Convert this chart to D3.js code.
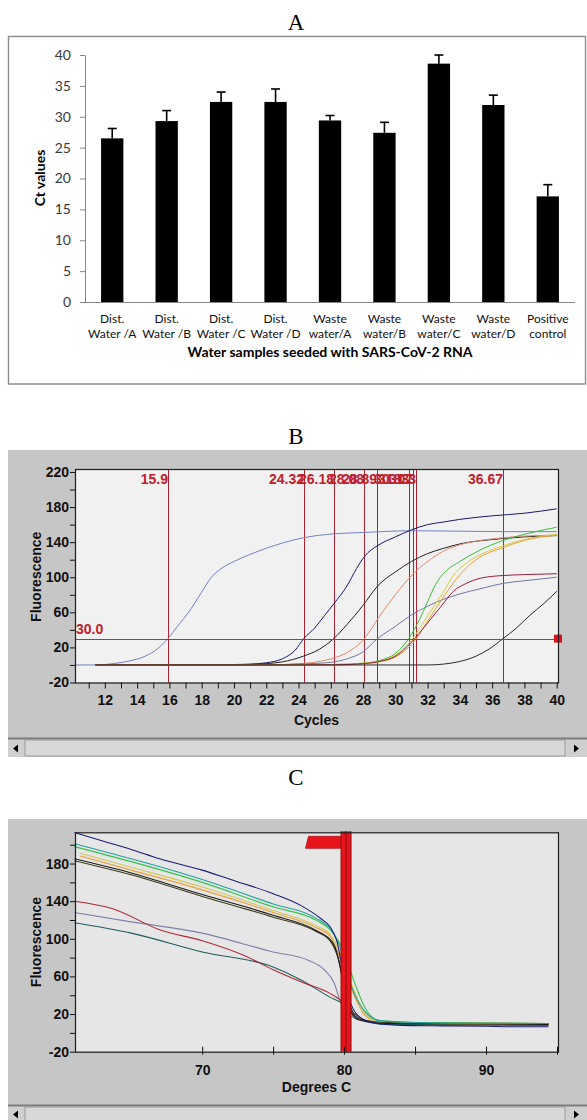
<!DOCTYPE html>
<html>
<head>
<meta charset="utf-8">
<script src="https://cdn.jsdelivr.net/npm/d3@7"></script>
<style>
body { margin: 0; background: #fff; }
svg { display: block; }
</style>
</head>
<body>
<svg id="fig" width="587" height="1120"></svg>
<script>
// ---------- data: panel A (Ct values) ----------
var sampleLines = [["Dist.", "Water /A"], ["Dist.", "Water /B"], ["Dist.", "Water /C"], ["Dist.", "Water /D"],
  ["Waste", "water/A"], ["Waste", "water/B"], ["Waste", "water/C"], ["Waste", "water/D"], ["Positive", "control"]];
var ctMeans = [26.5, 29.3, 32.4, 32.4, 29.4, 27.4, 38.6, 31.9, 17.1];
var ctErrors = [1.6, 1.7, 1.6, 2.1, 0.8, 1.7, 1.4, 1.6, 1.9];
var ctTicks = [0, 5, 10, 15, 20, 25, 30, 35, 40];

// ---------- data: panel B (amplification) ----------
var cycleTicks = [11, 12, 13, 14, 15, 16, 17, 18, 19, 20, 21, 22, 23, 24, 25, 26, 27, 28, 29, 30, 31, 32, 33, 34, 35, 36, 37, 38, 39, 40];
var ampTicks = [-20, 0, 20, 40, 60, 80, 100, 120, 140, 160, 180, 200, 220];
var ampLabels = [-20, 20, 60, 100, 140, 180, 220];
var threshold = 30;
var ctLines = [15.9, 24.32, 26.18, 28.08, 28.89, 30.83, 31.07, 31.3, 36.67];

var ampSteel = [[10.2, 0], [11.5, 0], [12.5, 1.5], [13.5, 4.5], [14.5, 10], [15.3, 19], [15.9, 30], [16.5, 44], [17.3, 63], [18, 83], [18.6, 100], [19.3, 111], [20, 118], [21, 126], [22, 133], [23, 139], [24.3, 145], [26.2, 149.5], [28, 151], [31, 153], [34, 152.5], [37, 152], [40, 152]];
var ampNavy = [[11.4, 0], [18, 0], [20, 0.5], [21, 1], [22, 2.5], [23, 7], [23.8, 17], [24.32, 30], [25, 42], [25.6, 56], [26.2, 70], [27, 90], [27.6, 110], [28.1, 124], [28.9, 136], [30, 146], [31, 154], [32, 160], [33, 163], [34, 166], [36, 170], [38, 173], [40, 178]];
var ampBlack = [[11.4, 0], [20, 0], [22, 1.5], [23, 3.5], [24.3, 10], [25.3, 18], [26.18, 30], [27, 46], [28, 68], [28.9, 90], [30, 106], [31, 118], [32, 127], [33, 133], [34, 138], [36, 143], [38, 146], [40, 147.5]];
var ampSalmon = [[11.4, 0], [22, 0], [24, 1.5], [25, 3], [26, 7], [27, 14], [28.08, 30], [29, 55], [30, 80], [31, 102], [32, 118], [33, 130], [34, 137], [35.3, 142], [36.7, 145], [38, 147], [40, 148]];
var ampLavender = [[11.4, 0], [22, 0], [24, 1], [26, 3], [27, 7], [28, 15], [28.89, 30], [30, 44], [31, 57], [32, 67], [33, 75], [34, 81], [35.3, 87], [36.67, 93], [38, 96], [40, 100]];
var ampGreen = [[11.4, 0], [26, 0.5], [28, 2], [29, 5], [30, 13], [30.83, 30], [31.5, 52], [32, 72], [32.5, 92], [33.2, 108], [34, 118], [35.25, 131], [36.7, 142], [38, 149], [40, 157]];
var ampYellow = [[11.4, 0], [26, 0.5], [28, 2], [29, 4], [30, 11], [31.07, 30], [32, 56], [33, 84], [33.6, 102], [34.4, 116], [35.3, 126], [36.7, 136], [38, 143], [40, 149]];
var ampOrange = [[11.4, 0], [26, 0.3], [28, 1.5], [29, 3.5], [30, 9], [31.3, 30], [32, 50], [33, 78], [34, 103], [35, 120], [36.7, 134], [38, 142], [40, 148]];
var ampMaroon = [[11.4, 0], [26, 0], [28, 1.5], [29, 4], [30, 10], [31.2, 30], [32, 48], [32.8, 66], [33.6, 84], [34.4, 93], [35.3, 99], [36.7, 102], [38, 103], [40, 104]];
var ampLate = [[11.4, 0], [32, 0], [33, 1], [34, 4], [35, 10], [35.8, 18], [36.67, 30], [37.5, 42], [38.3, 56], [39.2, 70], [40, 84]];
var ampCurves = [ampSteel, ampNavy, ampBlack, ampSalmon, ampLavender, ampGreen, ampYellow, ampOrange, ampMaroon, ampLate];
var ampColors = ["#7480c4", "#1a1a66", "#222222", "#e08a6e", "#7474a4", "#38c238", "#d8cc3a", "#eca036", "#962040", "#2a2a2a"];

// ---------- data: panel C (melt) ----------
var tempTicks = [70, 75, 80, 85, 90, 95];
var tempLabels = [70, 80, 90];
var meltTicks = [-20, 0, 20, 40, 60, 80, 100, 120, 140, 160, 180, 200];
var meltLabels = [-20, 20, 60, 100, 140, 180];
var meltPeak = 80.1;

var meltNavy = [[61, 213], [63, 204], [65, 195], [67, 185], [70, 173], [72, 163], [75, 148], [77, 135], [78.4, 121], [79, 113], [79.5, 97], [80, 58], [80.5, 30], [81, 18], [82, 11], [84, 8], [87, 7.5], [90, 7], [92, 6.5], [94.4, 6.5]];
var meltTeal = [[61, 201], [65, 185], [70, 163], [75, 137], [78, 122], [79, 111], [79.8, 88], [80.5, 50], [81.5, 22], [82.5, 13], [85, 11], [90, 10], [94.4, 10]];
var meltGreen = [[61, 198], [65, 182], [70, 160], [75, 134], [78, 120], [79, 110], [80, 86], [80.7, 55], [81.5, 26], [82.5, 13], [85, 11], [90, 10.5], [94.4, 10]];
var meltYellow = [[61.4, 191], [65, 176], [70, 155], [75, 130], [78, 114], [79, 105], [80, 75], [80.7, 45], [81.5, 20], [82.5, 12], [85, 10], [90, 9.5], [94.4, 9]];
var meltOrange = [[61.4, 188], [65, 173], [70, 152], [75, 128], [78, 112], [79, 103], [80, 68], [80.7, 40], [81.5, 18], [82.5, 11], [94.4, 9]];
var meltBlack = [[61, 185], [65, 170], [70, 147], [75, 125], [78, 109], [79.2, 96], [79.7, 72], [80, 45], [80.5, 22], [81, 14], [83, 10], [94.4, 9]];
var meltOlive = [[61, 183], [65, 168], [70, 145], [75, 123], [78, 108], [79, 98], [79.6, 78], [80, 50], [80.5, 26], [81, 15], [83, 11], [94.4, 10]];
var meltRed = [[61, 140], [63.7, 132], [67.1, 109], [70, 98], [73, 82], [75, 67], [77, 54], [79, 42], [79.9, 33], [80.6, 22], [81.4, 14], [82.5, 11], [94.4, 9]];
var meltLavender = [[61, 128], [65, 118], [70, 106], [75, 86], [77.5, 77], [78.6, 67], [79.3, 53], [79.7, 35], [80.3, 20], [81.5, 12], [83, 9], [94.4, 8]];
var meltDarkTeal = [[61, 117], [65, 106], [70, 86], [75, 70], [77, 56], [79, 38], [79.9, 31], [80.5, 21], [81.3, 14], [83, 9], [94.4, 8]];
var meltCurves = [meltLavender, meltDarkTeal, meltRed, meltOrange, meltYellow, meltOlive, meltBlack, meltGreen, meltTeal, meltNavy];
var meltColors = ["#8080a8", "#1e5c5c", "#b02838", "#e8a040", "#d4c858", "#3c3c1c", "#1a1a1a", "#3ac04a", "#20a0a0", "#1c1c78"];

var svg = d3.select("#fig");
var serif = "'Liberation Serif', 'Times New Roman', serif";
var bold = "'Liberation Sans', Arial, sans-serif";

// panel letters
svg.selectAll(".letter")
  .data([["A", 30], ["B", 444], ["C", 785]])
  .enter().append("text")
  .attr("x", 296).attr("y", d => d[1])
  .attr("text-anchor", "middle")
  .attr("font-family", serif).attr("font-size", 23)
  .text(d => d[0]);

// ================= panel A =================
var a = svg.append("g");
a.append("rect")
  .attr("x", 8.5).attr("y", 36.5).attr("width", 577).attr("height", 347.5)
  .attr("fill", "none").attr("stroke", "#8a8a8a").attr("stroke-width", 1.4);

var xA = d3.scaleBand().domain(d3.range(ctMeans.length)).range([85, 575])
  .paddingInner(0.59).paddingOuter(0.295);
var yA = d3.scaleLinear().domain([0, 40]).range([302, 55]);

var yAxisA = a.append("g")
  .attr("transform", "translate(85,0)")
  .call(d3.axisLeft(yA).tickValues(ctTicks).tickSize(5).tickSizeOuter(0).tickPadding(9))
  .attr("font-family", "Lato, 'Open Sans', sans-serif").attr("font-size", 14);
yAxisA.select(".domain").attr("stroke", "#868686");
yAxisA.selectAll(".tick line").attr("stroke", "#868686");
yAxisA.selectAll(".tick text").attr("fill", "#3a3a3a");

a.append("line")
  .attr("x1", 85).attr("x2", 575).attr("y1", yA(0) + 0.5).attr("y2", yA(0) + 0.5)
  .attr("stroke", "#868686");

a.selectAll(".bar")
  .data(ctMeans)
  .enter().append("rect")
  .attr("x", (d, i) => xA(i))
  .attr("y", d => yA(d))
  .attr("width", xA.bandwidth())
  .attr("height", d => yA(0) - yA(d))
  .attr("fill", "#000");

// upper error bars
var errG = a.selectAll(".err").data(ctMeans).enter().append("g");
errG.append("line")
  .attr("x1", (d, i) => xA(i) + xA.bandwidth() / 2)
  .attr("x2", (d, i) => xA(i) + xA.bandwidth() / 2)
  .attr("y1", d => yA(d))
  .attr("y2", (d, i) => yA(d + ctErrors[i]))
  .attr("stroke", "#000").attr("stroke-width", 1.6);
errG.append("line")
  .attr("x1", (d, i) => xA(i) + xA.bandwidth() / 2 - 4.5)
  .attr("x2", (d, i) => xA(i) + xA.bandwidth() / 2 + 4.5)
  .attr("y1", (d, i) => yA(d + ctErrors[i]))
  .attr("y2", (d, i) => yA(d + ctErrors[i]))
  .attr("stroke", "#000").attr("stroke-width", 1.6);

var catText = a.selectAll(".cat").data(sampleLines).enter().append("text")
  .attr("text-anchor", "middle")
  .attr("font-family", "Lato, 'Open Sans', sans-serif").attr("font-size", 12)
  .attr("fill", "#111");
catText.append("tspan").attr("x", (d, i) => xA(i) + xA.bandwidth() / 2).attr("y", 323).text(d => d[0]);
catText.append("tspan").attr("x", (d, i) => xA(i) + xA.bandwidth() / 2).attr("y", 338).text(d => d[1]);

a.append("text")
  .attr("x", 330).attr("y", 357)
  .attr("text-anchor", "middle")
  .attr("font-family", "Lato, 'Open Sans', sans-serif").attr("font-size", 14).attr("font-weight", "bold")
  .text("Water samples seeded with SARS-CoV-2 RNA");

a.append("text")
  .attr("transform", "translate(45,178) rotate(-90)")
  .attr("text-anchor", "middle")
  .attr("font-family", "Lato, 'Open Sans', sans-serif").attr("font-size", 14).attr("font-weight", "bold")
  .text("Ct values");

// ================= shared helpers for B and C =================
function panelFrame(g, top, bottom, plot) {
  g.append("rect").attr("x", 8).attr("y", top).attr("width", 579).attr("height", bottom - top).attr("fill", "#c6c6c6");
  g.append("rect")
    .attr("x", plot.left).attr("y", plot.top)
    .attr("width", plot.right - plot.left).attr("height", plot.bottom - plot.top)
    .attr("fill", plot.fill);
}

function scrollbar(g, y0, y1) {
  g.append("rect").attr("x", 8).attr("y", y0).attr("width", 579).attr("height", y1 - y0).attr("fill", "#cfcfcf");
  g.append("line").attr("x1", 8).attr("x2", 587).attr("y1", y0 + 0.5).attr("y2", y0 + 0.5).attr("stroke", "#7c7c7c").attr("stroke-width", 2);
  g.append("rect").attr("x", 25).attr("y", y0 + 2).attr("width", 540).attr("height", y1 - y0 - 3)
    .attr("fill", "#d8d8d8").attr("stroke", "#9a9a9a");
  var mid = (y0 + y1) / 2 + 1;
  g.append("path").attr("d", "M13," + mid + "L18," + (mid - 4) + "L18," + (mid + 4) + "Z").attr("fill", "#000");
  g.append("path").attr("d", "M579," + mid + "L574," + (mid - 4) + "L574," + (mid + 4) + "Z").attr("fill", "#000");
}

// ================= panel B =================
var b = svg.append("g");
var plotB = { left: 75, right: 558, top: 469, bottom: 682.5, fill: "#f1f1f1" };
panelFrame(b, 450, 757, plotB);

var xB = d3.scaleLinear().domain([10.15, 40.08]).range([plotB.left, plotB.right]);
var yB = d3.scaleLinear().domain([-20, 223.4]).range([plotB.bottom, plotB.top]);

var lineB = d3.line().x(d => xB(d[0])).y(d => yB(d[1])).curve(d3.curveMonotoneX);

// Ct verticals
b.selectAll(".ct").data(ctLines).enter().append("line")
  .attr("x1", d => Math.round(xB(d)) + 0.5).attr("x2", d => Math.round(xB(d)) + 0.5)
  .attr("y1", plotB.top).attr("y2", plotB.bottom)
  .attr("stroke", "#a82434").attr("stroke-width", 1);

b.selectAll(".curve").data(ampCurves).enter().append("path")
  .attr("d", lineB)
  .attr("fill", "none")
  .attr("stroke", (d, i) => ampColors[i])
  .attr("stroke-width", 1);

// threshold
b.append("line")
  .attr("x1", plotB.left).attr("x2", plotB.right)
  .attr("y1", Math.round(yB(threshold)) + 0.5).attr("y2", Math.round(yB(threshold)) + 0.5)
  .attr("stroke", "#c8283a").attr("stroke-width", 1);
b.append("rect")
  .attr("x", plotB.right - 4).attr("y", yB(threshold) - 4).attr("width", 8).attr("height", 8)
  .attr("fill", "#e01020");
b.append("text")
  .attr("x", plotB.left + 1).attr("y", yB(threshold) - 5)
  .attr("font-family", bold).attr("font-weight", "bold").attr("font-size", 14)
  .attr("fill", "#c0202c").text(threshold.toFixed(1));

b.selectAll(".ctlab").data(ctLines).enter().append("text")
  .attr("x", d => Math.round(xB(d)))
  .attr("y", plotB.top + 15)
  .attr("text-anchor", "end")
  .attr("font-family", bold).attr("font-weight", "bold").attr("font-size", 14)
  .attr("fill", "#c0202c")
  .text(d => d);

b.append("rect")
  .attr("x", plotB.left + 0.5).attr("y", plotB.top + 0.5)
  .attr("width", plotB.right - plotB.left).attr("height", plotB.bottom - plotB.top)
  .attr("fill", "none").attr("stroke", "#1e1e1e").attr("stroke-width", 1.2);

var yAxisB = b.append("g")
  .attr("transform", "translate(" + plotB.left + ",0)")
  .call(d3.axisLeft(yB).tickValues(ampTicks).tickSize(5).tickSizeOuter(0).tickPadding(1)
    .tickFormat(d => ampLabels.indexOf(d) >= 0 ? d : ""))
  .attr("font-family", bold).attr("font-weight", "bold").attr("font-size", 14);
yAxisB.select(".domain").remove();
yAxisB.selectAll(".tick line").attr("stroke", "#111");
yAxisB.selectAll(".tick text").attr("fill", "#111");

var xAxisB = b.append("g")
  .attr("transform", "translate(0," + plotB.bottom + ")")
  .call(d3.axisBottom(xB).tickValues(cycleTicks).tickSize(6).tickSizeOuter(0).tickPadding(7)
    .tickFormat(d => d % 2 === 0 ? d : ""))
  .attr("font-family", bold).attr("font-weight", "bold").attr("font-size", 14);
xAxisB.select(".domain").remove();
xAxisB.selectAll(".tick line").attr("stroke", "#111");
xAxisB.selectAll(".tick text").attr("fill", "#111");

b.append("text")
  .attr("x", (plotB.left + plotB.right) / 2).attr("y", 725)
  .attr("text-anchor", "middle")
  .attr("font-family", bold).attr("font-weight", "bold").attr("font-size", 14)
  .attr("fill", "#111").text("Cycles");
b.append("text")
  .attr("transform", "translate(41," + ((plotB.top + plotB.bottom) / 2 + 1) + ") rotate(-90)")
  .attr("text-anchor", "middle")
  .attr("font-family", bold).attr("font-weight", "bold").attr("font-size", 14)
  .attr("fill", "#111").text("Fluorescence");

scrollbar(b, 738, 757);

// ================= panel C =================
var c = svg.append("g");
var plotC = { left: 75, right: 558, top: 832.3, bottom: 1051.7, fill: "#e6e6e6" };
panelFrame(c, 819, 1120, plotC);

var xC = d3.scaleLinear().domain([61.04, 95.07]).range([plotC.left, plotC.right]);
var yC = d3.scaleLinear().domain([-20, 213.2]).range([plotC.bottom, plotC.top]);
var lineC = d3.line().x(d => xC(d[0])).y(d => yC(d[1])).curve(d3.curveMonotoneX);

c.selectAll(".curve").data(meltCurves).enter().append("path")
  .attr("d", lineC)
  .attr("fill", "none")
  .attr("stroke", (d, i) => meltColors[i])
  .attr("stroke-width", 1.1);

// melt peak marker (flag + thick bar)
var px = xC(meltPeak);
c.append("path")
  .attr("d", "M" + (px - 37) + "," + (plotC.top + 4) + "L" + (px + 1) + "," + (plotC.top + 4) +
    "L" + (px + 1) + "," + (plotC.top + 16) + "L" + (px - 40) + "," + (plotC.top + 16) + "Z")
  .attr("fill", "#e8141c").attr("stroke", "#b01018").attr("stroke-width", 0.8);
c.append("rect")
  .attr("x", px - 4.5).attr("y", plotC.top - 1).attr("width", 10).attr("height", plotC.bottom - plotC.top + 1)
  .attr("fill", "#e8141c");
c.selectAll(".pk").data([-4.5, 0.5, 5.5]).enter().append("line")
  .attr("x1", d => px + d).attr("x2", d => px + d)
  .attr("y1", plotC.top - 1).attr("y2", plotC.bottom)
  .attr("stroke", "#8c1010").attr("stroke-width", 1);

c.append("rect")
  .attr("x", plotC.left + 0.5).attr("y", plotC.top + 0.5)
  .attr("width", plotC.right - plotC.left).attr("height", plotC.bottom - plotC.top)
  .attr("fill", "none").attr("stroke", "#1e1e1e").attr("stroke-width", 1.2);

var yAxisC = c.append("g")
  .attr("transform", "translate(" + plotC.left + ",0)")
  .call(d3.axisLeft(yC).tickValues(meltTicks).tickSize(5).tickSizeOuter(0).tickPadding(1)
    .tickFormat(d => meltLabels.indexOf(d) >= 0 ? d : ""))
  .attr("font-family", bold).attr("font-weight", "bold").attr("font-size", 14);
yAxisC.select(".domain").remove();
yAxisC.selectAll(".tick line").attr("stroke", "#111");
yAxisC.selectAll(".tick text").attr("fill", "#111");

var xAxisC = c.append("g")
  .attr("transform", "translate(0," + plotC.bottom + ")")
  .call(d3.axisBottom(xC).tickValues(tempTicks).tickSize(3).tickSizeOuter(0).tickPadding(10)
    .tickFormat(d => tempLabels.indexOf(d) >= 0 ? d : ""))
  .attr("font-family", bold).attr("font-weight", "bold").attr("font-size", 14);
xAxisC.select(".domain").remove();
xAxisC.selectAll(".tick line").attr("stroke", "#111").attr("y1", -5);
xAxisC.selectAll(".tick text").attr("fill", "#111");

c.append("text")
  .attr("x", (plotC.left + plotC.right) / 2).attr("y", 1092)
  .attr("text-anchor", "middle")
  .attr("font-family", bold).attr("font-weight", "bold").attr("font-size", 14)
  .attr("fill", "#111").text("Degrees C");
c.append("text")
  .attr("transform", "translate(41," + ((plotC.top + plotC.bottom) / 2) + ") rotate(-90)")
  .attr("text-anchor", "middle")
  .attr("font-family", bold).attr("font-weight", "bold").attr("font-size", 14)
  .attr("fill", "#111").text("Fluorescence");

scrollbar(c, 1105, 1122);
</script>
</body>
</html>
